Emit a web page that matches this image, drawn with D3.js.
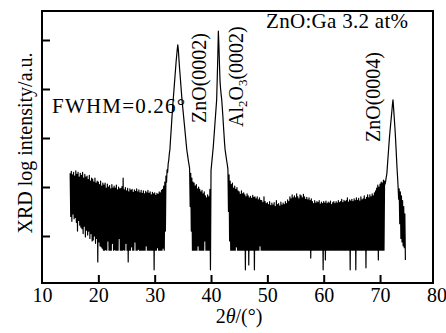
<!DOCTYPE html>
<html><head><meta charset="utf-8">
<script src="https://cdn.jsdelivr.net/npm/d3@7"></script>
<style>
body{margin:0;background:#fff}
text{font-family:"Liberation Serif","Times New Roman",serif;fill:#000}
</style>
</head><body><svg id="c" width="446" height="333"></svg>
<script>
// ---- data ----
const xTicks = [10, 20, 30, 40, 50, 60, 70, 80];
const yTicks = [1, 2, 3, 4, 5];
const scanStart = 15;      // first row = 15°, each row = 1°, 10 samples at 0.1°
const scanStep = 0.1;
// log intensity, one row per degree (15°..74°)
const logIntensity = [
  [2.28,1.40,2.32,1.30,2.25,1.45,2.30,1.35,2.22,1.38],
  [2.33,1.28,2.26,1.10,2.30,1.32,2.20,1.22,2.28,1.18],
  [2.24,1.15,2.30,1.05,2.18,1.20,2.26,0.98,2.20,1.12],
  [2.22,1.02,2.15,1.10,2.24,0.95,2.12,1.05,2.18,0.90],
  [2.16,0.92,2.10,1.00,2.18,0.85,2.08,0.95,2.12,0.47],
  [2.10,0.88,2.05,0.80,2.12,0.78,2.02,0.75,2.08,0.71],
  [2.04,0.71,2.08,0.72,1.98,0.71,2.06,0.90,2.00,0.71],
  [2.03,0.71,1.96,0.71,2.05,0.85,1.98,0.71,2.02,0.72],
  [1.98,0.71,2.04,0.71,1.94,0.71,2.00,0.95,1.96,0.71],
  [1.97,0.71,2.01,0.71,2.18,0.72,1.94,0.71,1.99,0.85],
  [1.92,0.71,1.97,0.47,1.90,0.71,1.96,0.71,1.93,0.78],
  [1.95,0.71,1.89,0.71,1.94,0.88,1.91,0.71,1.96,0.71],
  [1.90,0.73,1.94,0.71,1.88,0.71,1.93,0.71,1.87,0.71],
  [1.92,0.71,1.86,0.71,1.91,0.80,1.88,0.71,1.93,0.71],
  [1.87,0.71,1.90,0.71,1.84,0.71,1.89,0.71,1.86,0.31],
  [1.88,0.71,1.83,0.71,1.87,0.76,1.85,0.71,1.90,0.71],
  [1.88,0.71,1.93,0.71,1.95,0.75,2.02,0.71,2.10,1.10],
  [2.22,2.10,2.35,2.30,2.48,2.55,2.68,2.76,2.95,3.12],
  [3.30,3.48,3.65,3.80,3.95,4.10,4.25,4.40,4.55,4.68],
  [4.80,4.90,4.80,4.62,4.45,4.30,4.15,4.00,3.85,3.72],
  [3.60,3.48,3.36,3.24,3.12,3.00,2.88,2.76,2.68,2.60],
  [2.52,2.45,2.38,1.60,2.28,1.10,2.18,0.71,2.10,0.71],
  [2.08,0.71,2.02,0.71,2.05,0.71,1.96,0.80,2.00,0.71],
  [1.95,0.71,1.90,0.71,1.93,0.71,1.86,0.71,1.90,0.90],
  [1.82,0.71,1.78,0.71,1.84,0.71,1.80,0.71,1.95,0.31],
  [2.34,2.46,2.58,2.70,2.82,2.98,3.14,3.30,3.46,3.62],
  [3.78,4.20,4.65,5.18,4.90,4.50,4.15,4.00,3.88,3.78],
  [3.62,3.45,3.26,3.08,2.90,2.76,2.68,2.60,2.52,2.45],
  [2.36,1.50,2.25,0.90,2.12,0.71,2.05,0.71,2.08,0.71],
  [1.98,0.71,2.02,0.71,1.95,0.78,1.99,0.71,1.92,0.71],
  [1.90,0.71,1.85,0.71,1.92,0.71,1.86,0.71,1.88,0.71],
  [1.84,0.31,1.80,0.71,1.86,0.71,1.82,0.41,1.78,0.71],
  [1.81,0.71,1.77,0.71,1.83,0.71,1.79,0.31,1.80,0.71],
  [1.76,0.71,1.80,0.71,1.74,0.71,1.78,0.80,1.73,0.71],
  [1.72,0.71,1.68,0.71,1.80,0.71,1.70,0.71,1.66,0.71],
  [1.68,0.71,1.64,0.71,1.70,0.71,1.62,0.71,1.67,0.71],
  [1.63,0.71,1.68,0.71,1.60,0.71,1.72,0.71,1.64,0.71],
  [1.66,0.71,1.61,0.71,1.69,0.71,1.63,0.71,1.67,0.71],
  [1.64,0.71,1.70,0.71,1.66,0.71,1.74,0.71,1.70,0.71],
  [1.80,0.71,1.76,0.71,1.84,0.71,1.78,0.71,1.82,0.71],
  [1.78,0.71,1.86,0.71,1.80,0.71,1.76,0.71,1.84,0.71],
  [1.82,0.71,1.78,0.71,1.85,0.71,1.80,0.71,1.75,0.71],
  [1.79,0.71,1.74,0.71,1.78,0.71,1.72,0.55,1.76,0.71],
  [1.70,0.71,1.66,0.71,1.72,0.71,1.67,0.71,1.70,0.71],
  [1.68,0.71,1.72,0.71,1.65,0.71,1.69,0.71,1.66,0.31],
  [1.70,0.71,1.67,0.51,1.71,0.71,1.66,0.71,1.69,0.71],
  [1.67,0.71,1.71,0.71,1.64,0.71,1.68,0.71,1.70,0.71],
  [1.66,0.71,1.70,0.71,1.67,0.71,1.72,0.71,1.68,0.71],
  [1.70,0.71,1.75,0.71,1.68,0.71,1.73,0.71,1.70,0.71],
  [1.72,0.71,1.78,0.71,1.69,0.71,1.74,0.31,1.71,0.71],
  [1.75,0.71,1.70,0.71,1.76,0.71,1.72,0.31,1.78,0.71],
  [1.73,0.71,1.77,0.71,1.71,0.71,1.80,0.71,1.74,0.71],
  [1.76,0.71,1.82,0.71,1.75,0.35,1.79,0.71,1.84,0.71],
  [1.78,0.71,1.84,0.71,1.80,0.71,1.86,0.71,1.82,0.71],
  [1.88,0.71,1.92,0.71,1.98,0.71,2.04,0.51,2.00,0.71],
  [2.06,0.71,2.10,0.71,2.08,0.71,2.14,0.71,2.12,2.06],
  [2.12,2.20,2.26,2.42,2.58,2.74,2.90,3.05,3.18,3.30],
  [3.42,3.55,3.68,3.78,3.62,3.45,3.28,3.10,2.88,2.65],
  [2.42,2.22,2.02,1.75,1.96,1.25,1.90,0.95,1.82,0.88],
  [1.72,0.80,1.60,0.76,1.45,0.51]
];
const peakLabels = ["ZnO(0002)", "ZnO(0004)"];

// ---- chart ----
const svg = d3.select("#c");
const L = 42, R = 433, T = 11, B = 283;
const x = d3.scaleLinear().domain([10, 79.4]).range([L, R]);
const y = d3.scaleLinear().domain([2/49, 274/49]).range([B, T]);

const pts = [];
logIntensity.forEach((row, r) => row.forEach((v, c) => {
  pts.push({t: scanStart + r + c * scanStep, v});
}));

svg.append("clipPath").attr("id", "clip").append("rect")
  .attr("x", L).attr("y", T).attr("width", R - L).attr("height", B - T);

svg.append("path").datum(pts)
  .attr("clip-path", "url(#clip)")
  .attr("fill", "none").attr("stroke", "#000").attr("stroke-width", 1.2)
  .attr("stroke-linejoin", "round")
  .attr("d", d3.line().x(d => x(d.t)).y(d => y(d.v)));

// axes
const gx = svg.append("g").attr("transform", `translate(0,${B})`)
  .call(d3.axisBottom(x).tickValues(xTicks).tickSizeInner(-8).tickSizeOuter(0).tickPadding(5));
gx.select(".domain").remove();
gx.selectAll("line").attr("stroke", "#000").attr("stroke-width", 2);
gx.selectAll("text").attr("font-size", 20).attr("font-family", "Liberation Serif").attr("fill", "#000");
gx.selectAll(".tick").filter(d => d === 10 || d === 80).select("line").remove();

const gy = svg.append("g").attr("transform", `translate(${L},0)`)
  .call(d3.axisLeft(y).tickValues(yTicks).tickSizeInner(-8).tickSizeOuter(0).tickFormat(""));
gy.select(".domain").remove();
gy.selectAll("line").attr("stroke", "#000").attr("stroke-width", 2);

svg.append("rect").attr("x", L).attr("y", T).attr("width", R - L).attr("height", B - T)
  .attr("fill", "none").attr("stroke", "#000").attr("stroke-width", 2);

// labels
const xl = svg.append("text").attr("x", 239).attr("y", 323).attr("text-anchor", "middle").attr("font-size", 20);
xl.append("tspan").text("2");
xl.append("tspan").attr("font-style", "italic").text("θ");
xl.append("tspan").text("/(°)");

svg.append("text").attr("transform", "translate(32,143) rotate(-90)")
  .attr("text-anchor", "middle").attr("font-size", 20).text("XRD log intensity/a.u.");

svg.append("text").attr("x", 266).attr("y", 28).attr("font-size", 21).attr("letter-spacing", 0.3).text("ZnO:Ga 3.2 at%");
svg.append("text").attr("x", 52).attr("y", 113).attr("font-size", 21).attr("letter-spacing", 1.2).text("FWHM=0.26°");

svg.append("text").attr("transform", "translate(206,123) rotate(-90)").attr("font-size", 20).text(peakLabels[0]);
svg.append("text").attr("transform", "translate(380,142) rotate(-90)").attr("font-size", 20).text(peakLabels[1]);
const al = svg.append("text").attr("transform", "translate(243,127) rotate(-90)").attr("font-size", 20);
al.append("tspan").text("Al");
al.append("tspan").attr("font-size", 13).attr("dy", 4).text("2");
al.append("tspan").attr("dy", -4).text("O");
al.append("tspan").attr("font-size", 13).attr("dy", 4).text("3");
al.append("tspan").attr("dy", -4).text("(0002)");
</script></body></html>
